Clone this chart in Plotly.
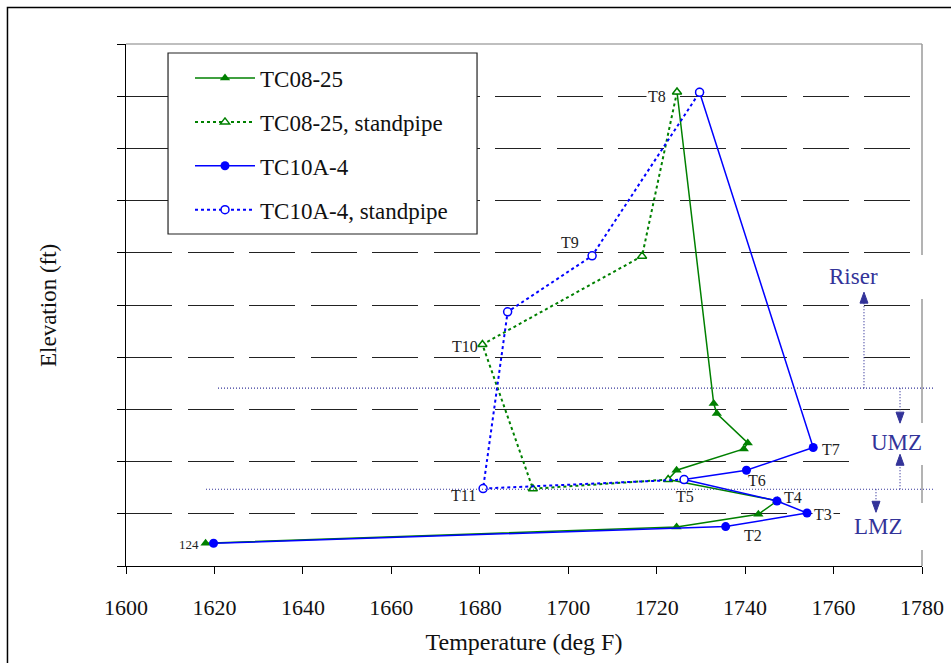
import plotly.graph_objects as go

# ---------------- data ----------------
# Temperatures in deg F; elevations in relative units (y-axis is unlabeled)
tc08_temp = [1618.0, 1724.5, 1743.0, 1747.3, 1722.6, 1724.5, 1739.7, 1740.6, 1733.6, 1732.9, 1724.6]
tc08_elev = [0.435, 0.748, 0.991, 1.250, 1.656, 1.834, 2.243, 2.358, 2.921, 3.113, 9.080]

tc08_sp_temp = [1722.6, 1692.0, 1680.6, 1716.7, 1724.6]
tc08_sp_elev = [1.656, 1.480, 4.244, 5.936, 9.080]

tc10_temp = [1619.8, 1735.6, 1754.0, 1747.2, 1726.2, 1740.3, 1755.4, 1729.7]
tc10_elev = [0.435, 0.755, 1.016, 1.246, 1.656, 1.834, 2.270, 9.074]

tc10_sp_temp = [1726.2, 1680.75, 1686.3, 1705.4, 1729.7]
tc10_sp_elev = [1.656, 1.484, 4.869, 5.942, 9.074]

x_ticks = [1600, 1620, 1640, 1660, 1680, 1700, 1720, 1740, 1760, 1780]

# zone boundaries (elevation units)
riser_umz_boundary = 3.407
umz_lmz_boundary = 1.470

FONT = "Liberation Serif, Times New Roman, serif"
GREEN = "#008000"
BLUE = "#0000FF"
ZONE = "#333399"
TXT = "#111111"

fig = go.Figure()

fig.add_trace(go.Scatter(
    x=tc08_temp, y=tc08_elev, name="TC08-25", legendgroup="a",
    mode="lines+markers", line=dict(color=GREEN, width=1.5),
    marker=dict(symbol="triangle-up", size=9, color=GREEN)))
fig.add_trace(go.Scatter(
    x=tc08_sp_temp, y=tc08_sp_elev, name="TC08-25, standpipe", legendgroup="b",
    mode="lines+markers", line=dict(color=GREEN, width=2, dash="dot"),
    marker=dict(symbol="triangle-up", size=8, color="white", line=dict(color=GREEN, width=1.5))))
fig.add_trace(go.Scatter(
    x=tc10_temp, y=tc10_elev, name="TC10A-4", legendgroup="c",
    mode="lines+markers", line=dict(color=BLUE, width=1.5),
    marker=dict(symbol="circle", size=9, color=BLUE)))
fig.add_trace(go.Scatter(
    x=tc10_sp_temp, y=tc10_sp_elev, name="TC10A-4, standpipe", legendgroup="d",
    mode="lines+markers", line=dict(color=BLUE, width=2, dash="dot"),
    marker=dict(symbol="circle", size=8, color="white", line=dict(color=BLUE, width=1.5))))

# ---------------- point labels ----------------
# (text, x-list, y-list, index, dx px, dy px (down), font size, white background)
labels = [
    ("124", tc08_temp, tc08_elev, 0, -17, 1, 13, False),
    ("T2", tc10_temp, tc10_elev, 1, 27, 9, 16, False),
    ("T3", tc10_temp, tc10_elev, 2, 16, 2, 16, True),
    ("T4", tc10_temp, tc10_elev, 3, 16, -3, 16, False),
    ("T5", tc10_temp, tc10_elev, 4, 1, 17, 16, False),
    ("T6", tc10_temp, tc10_elev, 5, 11, 10, 16, False),
    ("T7", tc10_temp, tc10_elev, 6, 18, 2, 16, False),
    ("T8", tc08_temp, tc08_elev, 10, -20, 4, 16, True),
    ("T9", tc10_sp_temp, tc10_sp_elev, 3, -22, -13, 16, False),
    ("T10", tc08_sp_temp, tc08_sp_elev, 2, -17, 2, 16, False),
    ("T11", tc10_sp_temp, tc10_sp_elev, 1, -20, 7, 16, False),
]
for txt, xs, ys, i, dx, dy, fs, bg in labels:
    fig.add_annotation(x=xs[i], y=ys[i], text=txt, showarrow=False,
                       xanchor="center", yanchor="middle",
                       xshift=dx, yshift=-dy, borderpad=1,
                       bgcolor="white" if bg else "rgba(0,0,0,0)",
                       font=dict(family=FONT, size=fs, color="#222222"))

# ---------------- plot-area border (gray top/right) ----------------
fig.add_shape(type="line", xref="paper", yref="paper", x0=0, x1=1, y0=1, y1=1,
              line=dict(color="#808080", width=1.2), layer="between")
fig.add_shape(type="line", xref="paper", yref="paper", x0=1, x1=1, y0=1, y1=0,
              line=dict(color="#9A9A9A", width=1.5), layer="between")

# outer frame
fig.add_shape(type="rect", xref="paper", yref="paper", x0=-0.1489, x1=1.3, y0=-0.4, y1=1.0699,
              line=dict(color="black", width=1.5), layer="above")

# legend box
fig.add_shape(type="rect", xref="paper", yref="paper", x0=0.0528, x1=0.441, y0=0.636, y1=0.9828,
              line=dict(color="#222222", width=1.2), fillcolor="white", layer="above")

# white text boxes behind the zone labels
for x0, x1, y0, y1 in [(0.8819, 1.0101, 0.5115, 0.5958),
                       (0.9121, 1.0101, 0.1935, 0.2739),
                       (0.8970, 1.0101, 0.0307, 0.1207)]:
    fig.add_shape(type="rect", xref="paper", yref="paper", x0=x0, x1=x1, y0=y0, y1=y1,
                  line=dict(width=0), fillcolor="white", layer="above")

# ---------------- zone lines, arrows and labels ----------------
dotted = dict(color=ZONE, width=1.2, dash="1px,2px")
fig.add_shape(type="line", xref="paper", yref="y", x0=0.1156, x1=1.0163,
              y0=riser_umz_boundary, y1=riser_umz_boundary, line=dotted, layer="above")
fig.add_shape(type="line", xref="paper", yref="y", x0=0.1005, x1=1.0163,
              y0=umz_lmz_boundary, y1=umz_lmz_boundary, line=dotted, layer="above")

def arrow(xp, y_from, length_px):
    """Dotted arrow starting on a boundary; length in px (positive = up)."""
    sgn = 1 if length_px > 0 else -1
    stem = length_px - sgn * 11
    fig.add_shape(type="path", xref="paper", yref="y",
                  xsizemode="pixel", ysizemode="pixel", xanchor=xp, yanchor=y_from,
                  path=f"M0,0 L0,{stem}", line=dotted, layer="above")
    fig.add_shape(type="path", xref="paper", yref="y",
                  xsizemode="pixel", ysizemode="pixel", xanchor=xp, yanchor=y_from,
                  path=f"M-4,{stem} L4,{stem} L0,{length_px} Z",
                  line=dict(color=ZONE, width=1), fillcolor=ZONE, layer="above")

arrow(0.9271, riser_umz_boundary, 96)
arrow(0.9724, riser_umz_boundary, -35)
arrow(0.9724, umz_lmz_boundary, 35)
arrow(0.9422, umz_lmz_boundary, -23)

for txt, xp, yv in [("Riser", 0.9137, 5.54), ("UMZ", 0.9682, 2.358), ("LMZ", 0.9451, 0.748)]:
    fig.add_annotation(xref="paper", yref="y", x=xp, y=yv, text=txt, showarrow=False,
                       xanchor="center", yanchor="middle",
                       font=dict(family=FONT, size=23, color=ZONE))

# y-axis title
fig.add_annotation(xref="paper", yref="paper", x=-0.098, y=0.5, text="Elevation (ft)",
                   xanchor="center", yanchor="middle",
                   textangle=-90, showarrow=False, font=dict(family=FONT, size=23, color=TXT))

fig.update_layout(
    width=951, height=663,
    margin=dict(l=126, r=29, t=44, b=97, autoexpand=False),
    paper_bgcolor="white", plot_bgcolor="white",
    font=dict(family=FONT, color=TXT),
    showlegend=True,
    legend=dict(x=0.0804, y=0.976, xanchor="left", yanchor="top",
                bgcolor="rgba(0,0,0,0)", borderwidth=0,
                font=dict(family=FONT, size=23, color=TXT),
                tracegroupgap=11, itemwidth=60),
    xaxis=dict(range=[1600, 1780], tickvals=x_ticks, ticktext=[str(v) for v in x_ticks],
               automargin=False,
               ticks="outside", ticklen=7, tickcolor="black",
               showline=True, linecolor="black", linewidth=1,
               showgrid=False, zeroline=False,
               tickfont=dict(family=FONT, size=22, color=TXT),
               ticklabelstandoff=15,
               title=dict(text="Temperature (deg F)", font=dict(family=FONT, size=24, color=TXT),
                          standoff=13)),
    yaxis=dict(range=[0, 10], dtick=1, tick0=0, showticklabels=False, automargin=False,
               ticks="outside", ticklen=8, tickcolor="black",
               showline=True, linecolor="black", linewidth=1,
               showgrid=True, gridcolor="#222222", gridwidth=1, griddash="46px,15.5px",
               zeroline=False),
)

fig.write_html("out.html")
